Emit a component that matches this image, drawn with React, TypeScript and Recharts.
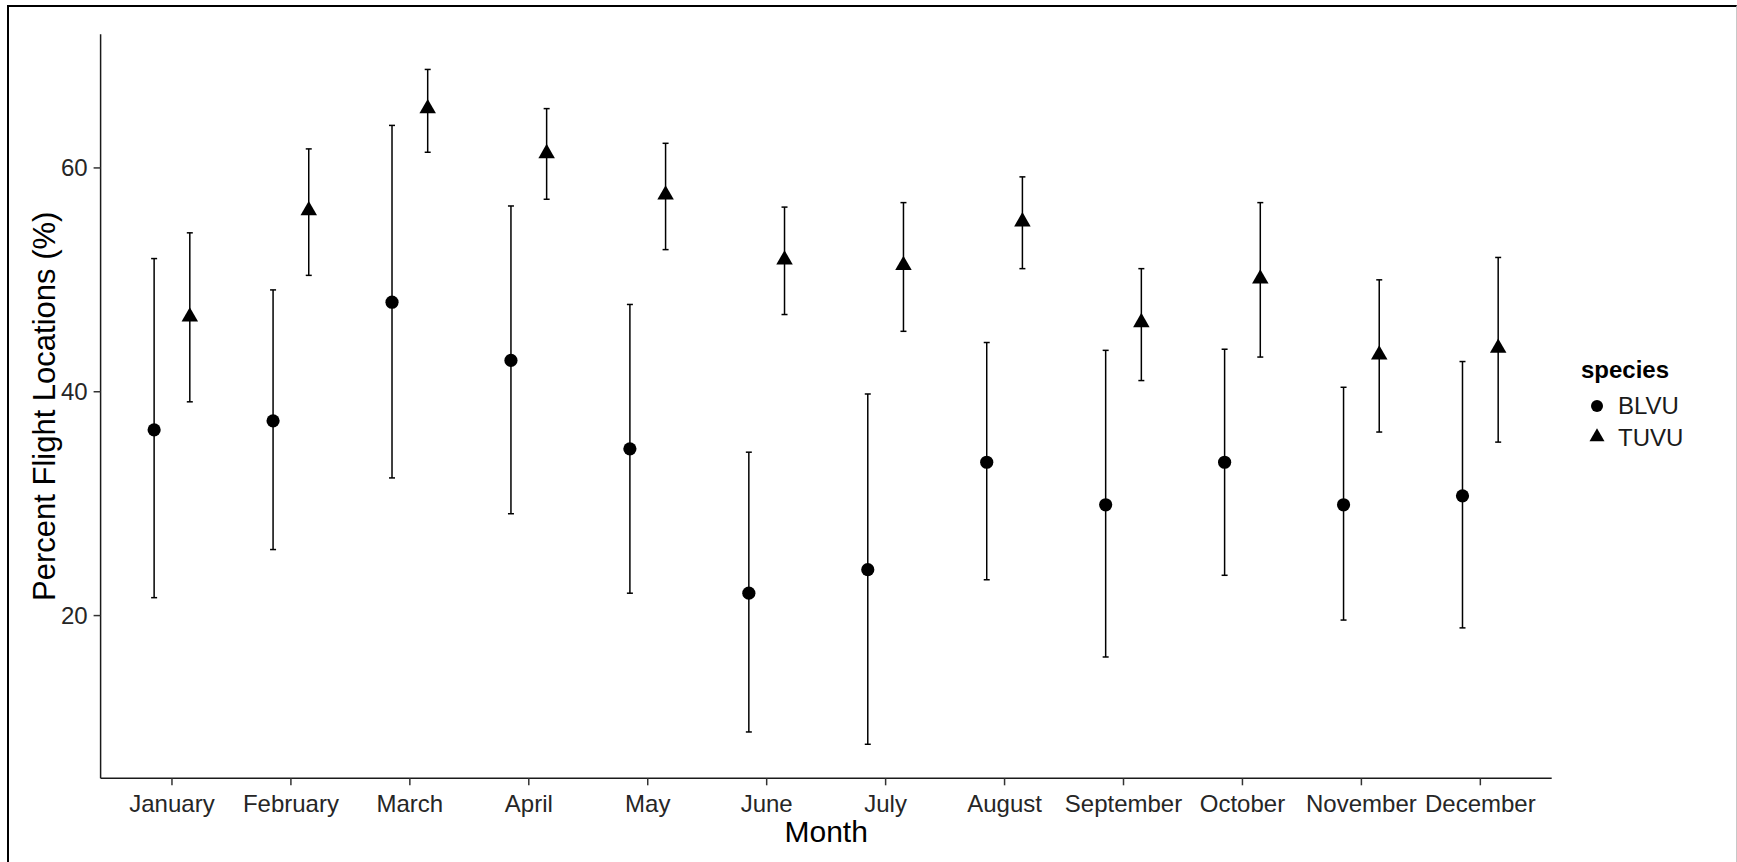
import { ScatterChart, Scatter, XAxis, YAxis, ErrorBar, Legend } from "recharts";

// monthly share of flight locations, mean with lower / upper interval
const months = [
  "January", "February", "March", "April", "May", "June",
  "July", "August", "September", "October", "November", "December",
];

const blvuMean = [36.6, 37.4, 48.0, 42.8, 34.9, 22.0, 24.1, 33.7, 29.9, 33.7, 29.9, 30.7];
const blvuLow = [21.6, 25.9, 32.3, 29.1, 22.0, 9.6, 8.5, 23.2, 16.3, 23.6, 19.6, 18.9];
const blvuHigh = [51.9, 49.1, 63.8, 56.6, 47.8, 34.6, 39.8, 44.4, 43.7, 43.8, 40.4, 42.7];

const tuvuMean = [46.7, 56.2, 65.3, 61.3, 57.6, 51.8, 51.3, 55.2, 46.2, 50.1, 43.3, 43.9];
const tuvuLow = [39.1, 50.4, 61.4, 57.2, 52.7, 46.9, 45.4, 51.0, 41.0, 43.1, 36.4, 35.5];
const tuvuHigh = [54.2, 61.7, 68.8, 65.3, 62.2, 56.5, 56.9, 59.2, 51.0, 56.9, 50.0, 52.0];

const yTicks = [20, 40, 60];
const yDomain = [5.46, 71.94];

const FONT = "'Liberation Sans', Arial, Helvetica, sans-serif";
const DODGE = 0.15;

const toPoints = (mean: number[], low: number[], high: number[], shift: number) =>
  months.map((m, i) => ({
    month: m,
    x: i + 1 + shift,
    y: mean[i],
    err: [mean[i] - low[i], high[i] - mean[i]],
  }));

const blvu = toPoints(blvuMean, blvuLow, blvuHigh, -DODGE);
const tuvu = toPoints(tuvuMean, tuvuLow, tuvuHigh, DODGE);

const xTicks = months.map((_, i) => i + 1);

const CircleShape = (p: any) => <circle cx={p.cx} cy={p.cy} r={6.6} fill="#000" />;

const triPoints = (cx: number, cy: number, s: number) => {
  const h = (s * Math.sqrt(3)) / 2;
  return `${cx},${cy - (2 * h) / 3} ${cx + s / 2},${cy + h / 3} ${cx - s / 2},${cy + h / 3}`;
};

const TriangleShape = (p: any) => <polygon points={triPoints(p.cx, p.cy, 16.5)} fill="#000" />;

const SpeciesLegend = () => (
  <svg width={150} height={110} style={{ display: "block" }} fontFamily={FONT}>
    <text x={6} y={28} fontSize={24} fontWeight="bold" fill="#000">species</text>
    <circle cx={22} cy={56} r={6} fill="#000" />
    <text x={43} y={64} fontSize={24} fill="#1a1a1a">BLVU</text>
    <polygon points={triPoints(22, 87, 15)} fill="#000" />
    <text x={43} y={96} fontSize={24} fill="#1a1a1a">TUVU</text>
  </svg>
);

const XTitle = ({ viewBox }: any) => (
  <text
    x={viewBox.x + viewBox.width / 2}
    y={viewBox.y + 63.4}
    textAnchor="middle"
    fontSize={30}
    fontFamily={FONT}
    fill="#000"
  >
    Month
  </text>
);

const YTitle = ({ viewBox }: any) => {
  const cx = viewBox.x + viewBox.width - 56.6;
  const cy = viewBox.y + viewBox.height / 2;
  return (
    <text
      x={cx}
      y={cy}
      dy="0.355em"
      transform={`rotate(-90 ${cx} ${cy})`}
      textAnchor="middle"
      fontSize={31}
      fontFamily={FONT}
      fill="#000"
    >
      Percent Flight Locations (%)
    </text>
  );
};

const tickStyle = { fontSize: 24, fill: "#262626", fontFamily: FONT };

export default function App() {
  return (
    <div style={{ position: "absolute", left: 0, top: 0, width: 1737, height: 862, overflow: "hidden", background: "#fff" }}>
      <div
        style={{
          position: "absolute",
          left: 7,
          top: 5,
          width: 1727,
          height: 1000,
          borderTop: "2px solid #000",
          borderLeft: "2.5px solid #000",
          borderRight: "1px solid #c8c8c8",
        }}
      />
      <div style={{ position: "absolute", left: 0, top: 0 }}>
        <ScatterChart
          width={1737}
          height={862}
          margin={{ top: 34.3, right: 185.3, bottom: 19.7, left: 40.6 }}
        >
          <XAxis
            type="number"
            dataKey="x"
            domain={[0.4, 12.6]}
            ticks={xTicks}
            interval={0}
            allowDataOverflow
            tickFormatter={(v: number) => months[v - 1]}
            tick={tickStyle}
            tickSize={7}
            tickMargin={10}
            height={64}
            axisLine={{ stroke: "#1a1a1a", strokeWidth: 1.5 }}
            tickLine={{ stroke: "#333", strokeWidth: 1.5 }}
            label={<XTitle />}
          />
          <YAxis
            type="number"
            dataKey="y"
            domain={yDomain}
            ticks={yTicks}
            interval={0}
            allowDataOverflow
            tick={tickStyle}
            tickSize={7}
            tickMargin={6}
            width={60}
            axisLine={{ stroke: "#1a1a1a", strokeWidth: 1.5 }}
            tickLine={{ stroke: "#333", strokeWidth: 1.5 }}
            label={<YTitle />}
          />
          <Legend
            layout="horizontal"
            verticalAlign="middle"
            align="center"
            content={<SpeciesLegend />}
            wrapperStyle={{ left: 1575, top: 350, width: 160 }}
          />
          <Scatter name="BLVU" data={blvu} shape={CircleShape} isAnimationActive={false}>
            <ErrorBar dataKey="err" direction="y" width={3} stroke="#000" strokeWidth={1.5} isAnimationActive={false} />
          </Scatter>
          <Scatter name="TUVU" data={tuvu} shape={TriangleShape} isAnimationActive={false}>
            <ErrorBar dataKey="err" direction="y" width={3} stroke="#000" strokeWidth={1.5} isAnimationActive={false} />
          </Scatter>
        </ScatterChart>
      </div>
    </div>
  );
}
